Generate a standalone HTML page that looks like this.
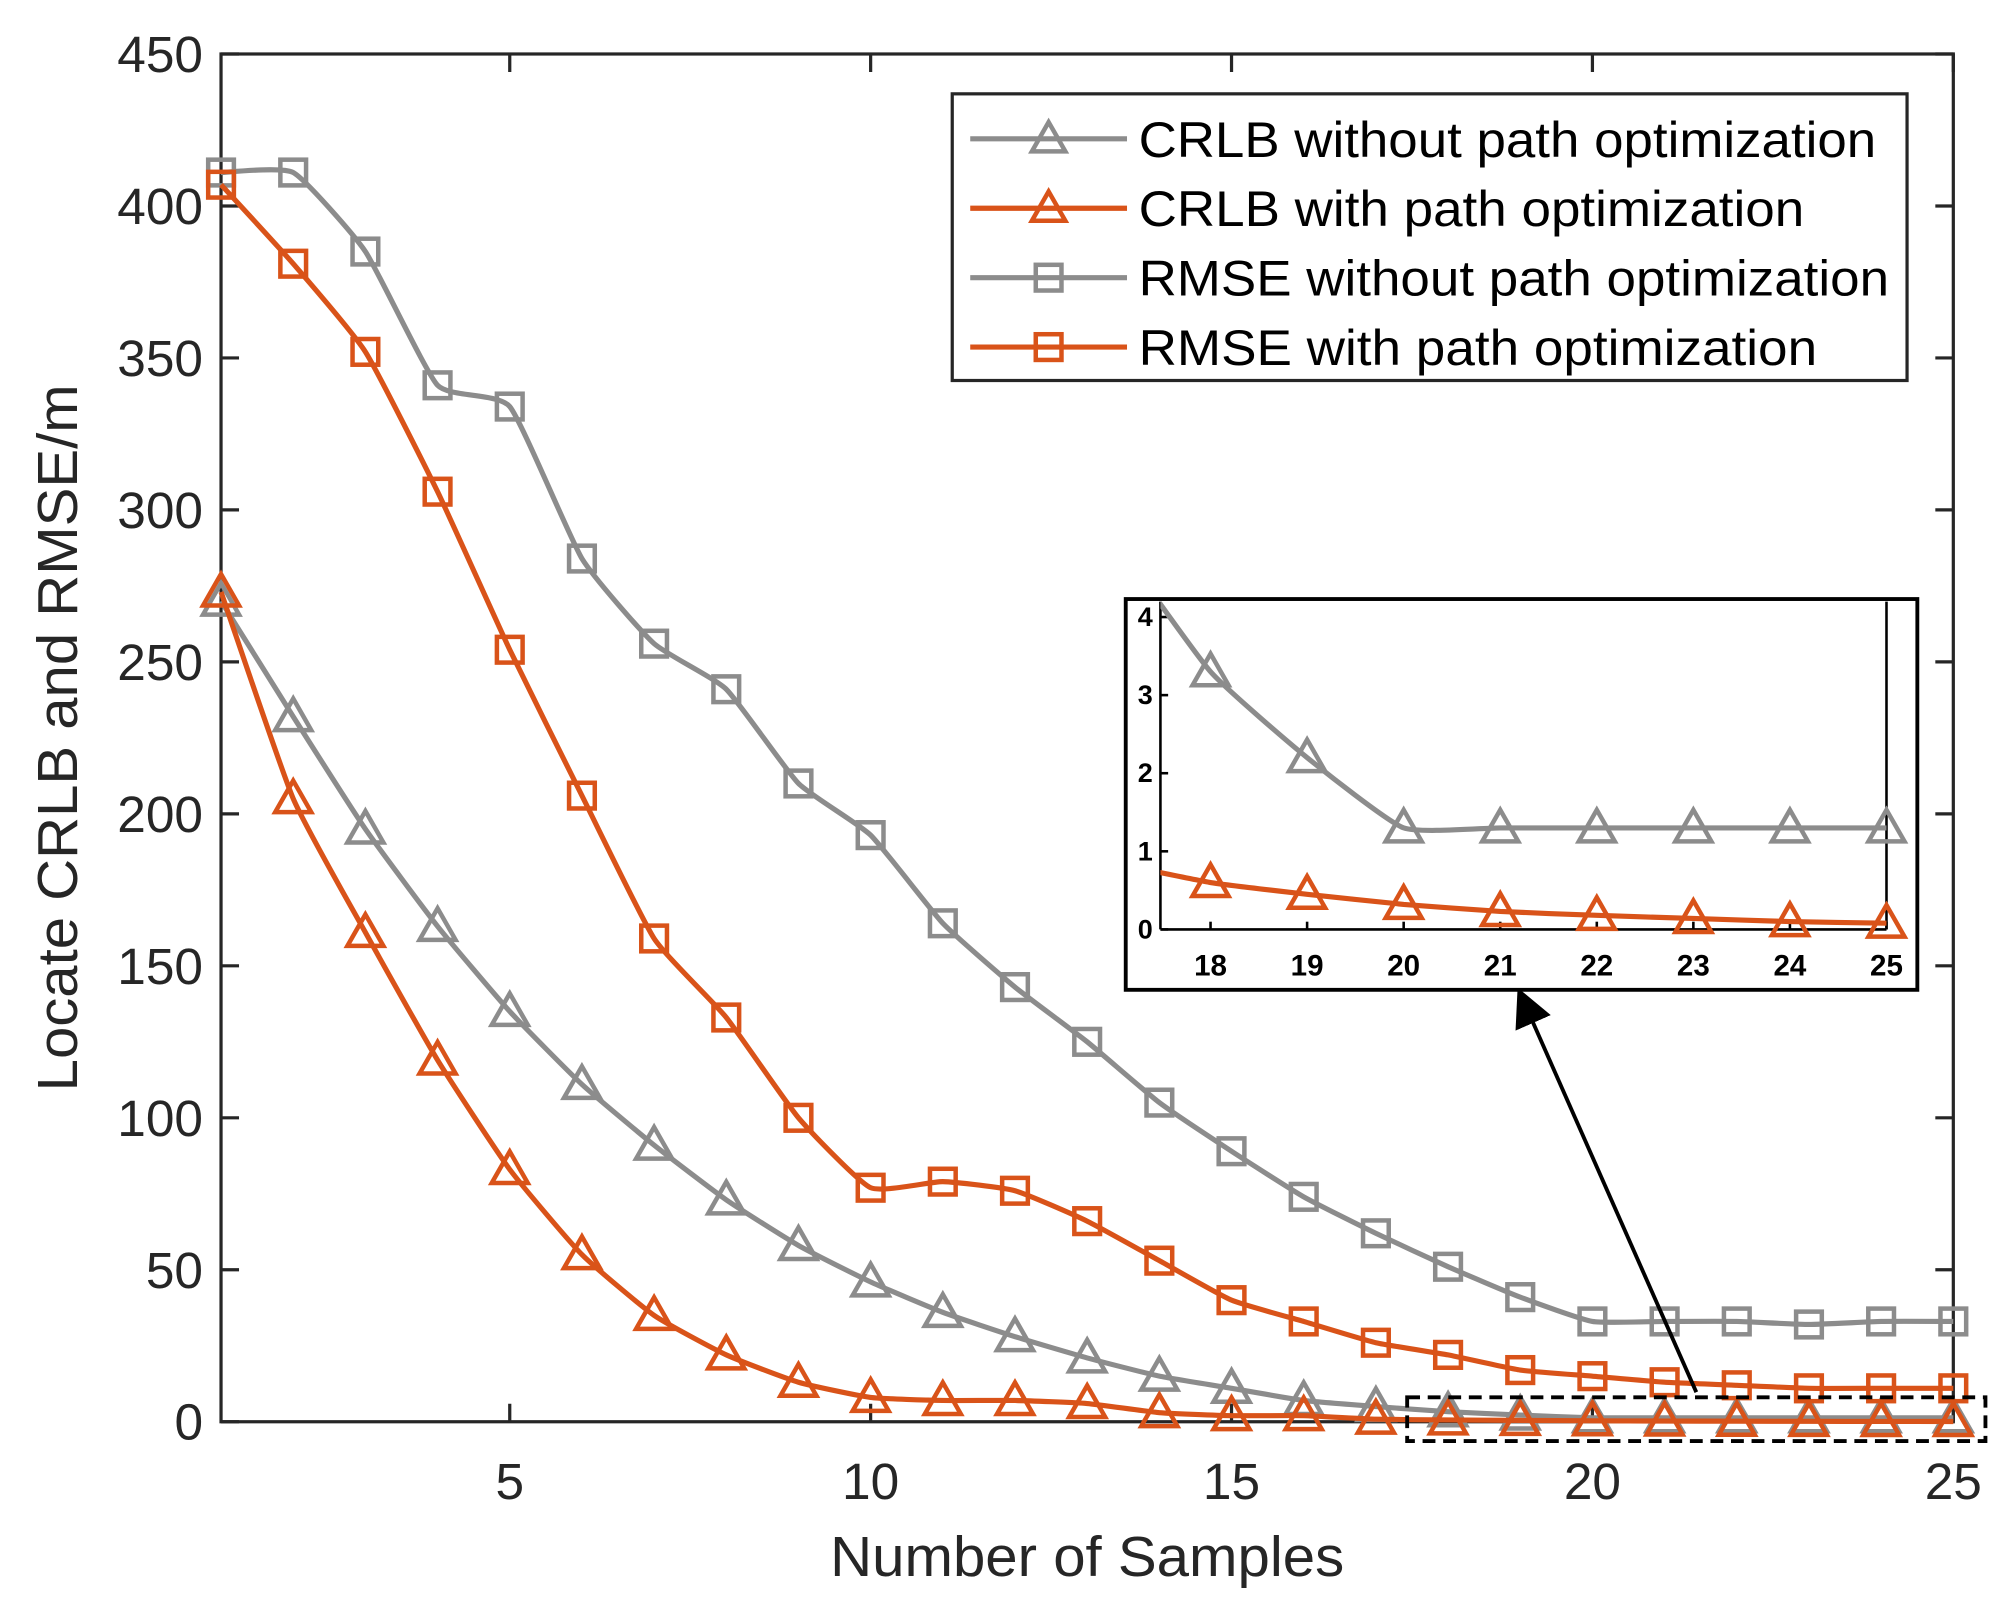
<!DOCTYPE html>
<html><head><meta charset="utf-8"><style>
html,body{margin:0;padding:0;background:#fff;}
svg{display:block;font-family:"Liberation Sans",Arial,sans-serif;}
</style></head><body>
<svg id="chart" width="2015" height="1612" viewBox="0 0 1568 1254" preserveAspectRatio="none" xmlns="http://www.w3.org/2000/svg">
<defs>
<clipPath id="insetClip"><rect x="903" y="468" width="565" height="257"/></clipPath>
<marker id="ah" markerWidth="10" markerHeight="10" refX="5" refY="5" orient="auto"><path d="M0,0 L10,5 L0,10 z" fill="#000"/></marker>
</defs>
<g id="main"></g>
<g id="inset"></g>
</svg>
<script>
const xs = [1,2,3,4,5,6,7,8,9,10,11,12,13,14,15,16,17,18,19,20,21,22,23,24,25];
const rmseWithout = [411,411,385,341,334,284,256,241,210,193,164,143,125,105,89,74,62,51,41,33,33,33,32,33,33];
const rmseWith = [407,381,352,306,254,206,159,133,100,77,79,76,66,53,40,33,26,22,17,15,13,12,11,11,11];
const crlbWithout = [270,232,195,163,135,111,91,73,58,46,36,28,21,15,11,7,5,3.3,2.2,1.3,1.3,1.3,1.3,1.3,1.3];
const crlbWith = [273,205,161,119,83,55,35,22,13,8,7,7,6,3,2,2,0.85,0.6,0.45,0.32,0.23,0.18,0.14,0.1,0.08];
const xTicks = [5,10,15,20,25];
const yTicks = [0,50,100,150,200,250,300,350,400,450];
const insetXTicks = [18,19,20,21,22,23,24,25];
const insetYTicks = [0,1,2,3,4];

const NS='http://www.w3.org/2000/svg';
const GRAY='#8c8c8c', ORANGE='#d95319';
function mk(parent,tag,attrs,text){const e=document.createElementNS(NS,tag);for(const k in attrs)e.setAttribute(k,attrs[k]);if(text!==undefined)e.textContent=text;parent.appendChild(e);return e;}

const L=172,R=1520,T=42,B=1106;
const sx=v=>L+(v-1)*(R-L)/24;
const sy=v=>B-v*(B-T)/450;
const main=document.getElementById('main');
mk(main,'rect',{x:L,y:T,width:R-L,height:B-T,fill:'none',stroke:'#262626','stroke-width':2.5});
xTicks.forEach(t=>{
  const g=mk(main,'g',{});
  
  
  mk(g,'line',{x1:sx(t),x2:sx(t),y1:B,y2:B-14,stroke:'#262626','stroke-width':2.5});
  mk(g,'line',{x1:sx(t),x2:sx(t),y1:T,y2:T+14,stroke:'#262626','stroke-width':2.5});
  mk(g,'text',{x:sx(t),y:B+60,'font-size':40,'text-anchor':'middle',fill:'#262626'},String(t));
});
yTicks.forEach(t=>{
  const g=mk(main,'g',{});
  
  
  mk(g,'line',{x1:L,x2:L+14,y1:sy(t),y2:sy(t),stroke:'#262626','stroke-width':2.5});
  mk(g,'line',{x1:R,x2:R-14,y1:sy(t),y2:sy(t),stroke:'#262626','stroke-width':2.5});
  mk(g,'text',{x:L-14,y:sy(t)+14,'font-size':40,'text-anchor':'end',fill:'#262626'},String(t));
});
const xl=mk(main,'text',{x:846,y:1226,'font-size':44,'text-anchor':'middle',fill:'#262626',textLength:400,lengthAdjust:'spacingAndGlyphs'},'Number of Samples');


const yl=mk(main,'text',{x:0,y:0,'font-size':44,'text-anchor':'middle',fill:'#262626',transform:'translate(60,574) rotate(-90)',textLength:550,lengthAdjust:'spacingAndGlyphs'},'Locate CRLB and RMSE/m');



function tri(g,x,y,c,s){mk(g,'polygon',{points:`${x},${y-s} ${x-s},${y+s*0.75} ${x+s},${y+s*0.75}`,fill:'none',stroke:c,'stroke-width':3.5});}
function sq(g,x,y,c,s){mk(g,'rect',{x:x-s,y:y-s,width:2*s,height:2*s,fill:'none',stroke:c,'stroke-width':3.5});}
function smoothPath(P){
  let d='M'+P[0][0]+','+P[0][1];
  for(let i=0;i<P.length-1;i++){
    const p0=P[Math.max(i-1,0)],p1=P[i],p2=P[i+1],p3=P[Math.min(i+2,P.length-1)];
    const t=0.08;
    const c1=[p1[0]+(p2[0]-p0[0])*t,p1[1]+(p2[1]-p0[1])*t];
    const c2=[p2[0]-(p3[0]-p1[0])*t,p2[1]-(p3[1]-p1[1])*t];
    d+=` C${c1[0]},${c1[1]} ${c2[0]},${c2[1]} ${p2[0]},${p2[1]}`;
  }
  return d;
}
function series(parent,name,X,Y,fx,fy,color,marker,s,lw){
  const g=mk(parent,'g',{});
  
  
  mk(g,'path',{d:smoothPath(X.map((x,i)=>[fx(x),fy(Y[i])])),fill:'none',stroke:color,'stroke-width':lw,'stroke-linejoin':'round'});
  X.forEach((x,i)=>marker(g,fx(x),fy(Y[i]),color,s));
  return g;
}
series(main,'rmse-without-series',xs,rmseWithout,sx,sy,GRAY,sq,10,4);
series(main,'crlb-without-series',xs,crlbWithout,sx,sy,GRAY,tri,14,4);
series(main,'rmse-with-series',xs,rmseWith,sx,sy,ORANGE,sq,10,4);
series(main,'crlb-with-series',xs,crlbWith,sx,sy,ORANGE,tri,14,4);

const lg=mk(main,'g',{});


mk(lg,'rect',{x:741,y:73,width:743,height:223,fill:'#fff',stroke:'#262626','stroke-width':2.5});
const entries=[['CRLB without path optimization',GRAY,tri,574],['CRLB with path optimization',ORANGE,tri,518],['RMSE without path optimization',GRAY,sq,584],['RMSE with path optimization',ORANGE,sq,528]];
entries.forEach((e,i)=>{
  const y=108+i*54;
  const g=mk(lg,'g',{});
  
  
  mk(g,'line',{x1:755,x2:877,y1:y,y2:y,stroke:e[1],'stroke-width':4});
  e[2](g,816,y,e[1],e[2]===tri?13:10);
  mk(g,'text',{x:886,y:y+14,'font-size':39,fill:'#000',textLength:e[3],lengthAdjust:'spacingAndGlyphs'},e[0]);
});

const db=mk(main,'rect',{x:1095,y:1087,width:450,height:34,fill:'none',stroke:'#000','stroke-width':3,'stroke-dasharray':'10,6'});


const ar=mk(main,'line',{x1:1320,y1:1083,x2:1187,y2:782,stroke:'#000','stroke-width':3,'marker-end':'url(#ah)'});



const inset=document.getElementById('inset');
const IL=903,IR=1468,IT=468,IB=723;
const ix=v=>942+(v-18)*(IR-942)/7;
const iy=v=>IB-v*(IB-480)/4;
mk(inset,'rect',{x:876,y:466,width:616,height:304,fill:'#fff',stroke:'#000','stroke-width':3});
mk(inset,'line',{x1:IL,x2:IL,y1:IT,y2:IB,stroke:'#000','stroke-width':2});
mk(inset,'line',{x1:IL,x2:IR,y1:IB,y2:IB,stroke:'#000','stroke-width':2});
mk(inset,'line',{x1:IR,x2:IR,y1:IT,y2:IB,stroke:'#000','stroke-width':2});
insetXTicks.forEach(t=>{
  const g=mk(inset,'g',{});
  
  
  mk(g,'line',{x1:ix(t),x2:ix(t),y1:IB,y2:IB-6,stroke:'#000','stroke-width':2});
  mk(g,'text',{x:ix(t),y:IB+36,'font-size':23,'font-weight':'bold','text-anchor':'middle',fill:'#000'},String(t));
});
insetYTicks.forEach(t=>{
  const g=mk(inset,'g',{});
  
  
  mk(g,'line',{x1:IL,x2:IL+6,y1:iy(t),y2:iy(t),stroke:'#000','stroke-width':2});
  mk(g,'text',{x:IL-6,y:iy(t)+7,'font-size':21,'font-weight':'bold','text-anchor':'end',fill:'#000'},String(t));
});
const sub=(a)=>a.slice(16);
const ixs=sub(xs);
const g1=series(inset,'inset-crlb-without',ixs,sub(crlbWithout),ix,iy,GRAY,tri,14,4);
const g2=series(inset,'inset-crlb-with',ixs,sub(crlbWith),ix,iy,ORANGE,tri,14,4);
[g1,g2].forEach(g=>{const pl=g.querySelector('path');pl.setAttribute('clip-path','url(#insetClip)');const m=g.querySelectorAll('polygon');m[0].remove();});
</script>
</body></html>
